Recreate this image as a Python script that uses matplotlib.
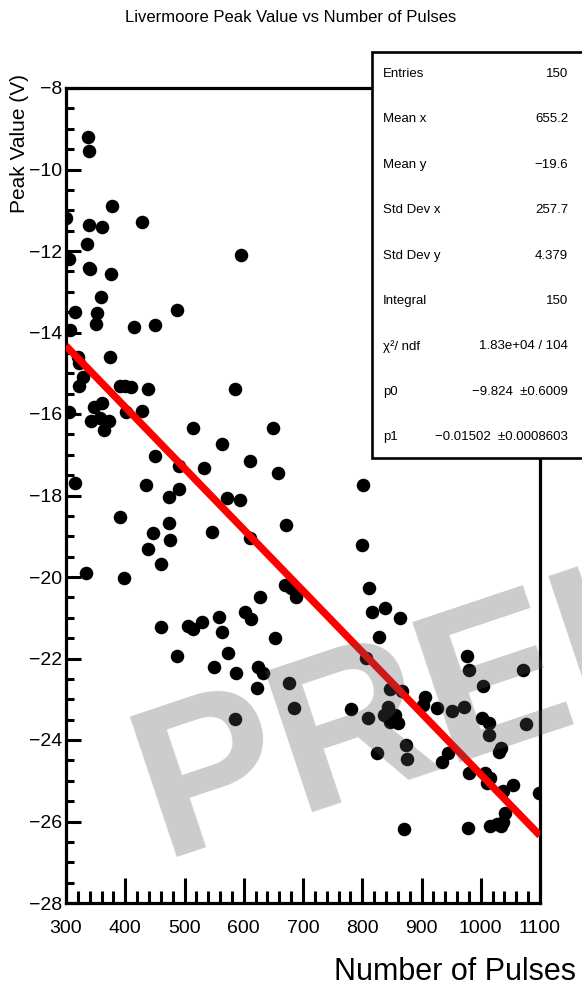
import numpy as np
import matplotlib
matplotlib.use("Agg")
import matplotlib.pyplot as plt
from matplotlib.patches import Rectangle
from matplotlib.ticker import MultipleLocator

plt.rcParams['font.family'] = ['Liberation Sans', 'DejaVu Sans']

# measured peak values vs number of pulses
pulses = [337, 338, 378, 300, 429, 338, 361, 335, 595, 305,
          338, 341, 376, 359, 315, 353, 488, 350, 414, 451,
          307, 321, 322, 329, 322, 375, 391, 400, 410, 438,
          586, 305, 348, 360, 342, 357, 373, 364, 401, 429,
          514, 563, 610, 450, 490, 533, 316, 435, 490, 474,
          571, 594, 391, 447, 473, 476, 546, 610, 438, 461,
          334, 398, 460, 487, 506, 515, 529, 559, 564, 574,
          549, 587, 602, 612, 627, 653, 624, 633, 670, 679,
          689, 650, 657, 671, 622, 677, 684, 585, 781, 810,
          825, 812, 816, 838, 864, 829, 807, 976, 981, 1072,
          1003, 846, 867, 906, 903, 927, 951, 972, 836, 844,
          846, 855, 861, 1002, 1014, 1014, 1076, 874, 875, 934,
          945, 1031, 1035, 981, 1007, 1016, 1010, 1037, 1055, 1098,
          870, 979, 1016, 1027, 1038, 1041, 1035, 802, 799]
peak = [-9.20, -9.54, -10.90, -11.20, -11.28, -11.35, -11.40, -11.83, -12.10, -12.20,
        -12.42, -12.44, -12.57, -13.14, -13.49, -13.51, -13.45, -13.79, -13.86, -13.82,
        -13.94, -14.59, -14.76, -15.08, -15.31, -14.59, -15.31, -15.31, -15.34, -15.38,
        -15.39, -15.94, -15.84, -15.74, -16.16, -16.10, -16.16, -16.39, -15.94, -15.93,
        -16.35, -16.74, -17.15, -17.03, -17.28, -17.33, -17.70, -17.74, -17.85, -18.03,
        -18.07, -18.11, -18.53, -18.93, -18.68, -19.08, -18.89, -19.05, -19.31, -19.69,
        -19.91, -20.03, -21.23, -21.94, -21.20, -21.28, -21.10, -20.97, -21.36, -21.86,
        -22.20, -22.35, -20.85, -21.03, -20.48, -21.49, -22.22, -22.36, -20.20, -20.28,
        -20.48, -16.35, -17.44, -18.72, -22.73, -22.59, -23.21, -23.49, -23.25, -23.47,
        -24.31, -20.28, -20.85, -20.77, -21.01, -21.48, -21.99, -21.95, -22.28, -22.28,
        -22.67, -22.75, -22.79, -22.94, -23.15, -23.22, -23.30, -23.20, -23.39, -23.18,
        -23.55, -23.39, -23.59, -23.47, -23.59, -23.88, -23.61, -24.12, -24.47, -24.53,
        -24.33, -24.29, -24.20, -24.82, -24.82, -24.94, -25.05, -25.25, -25.10, -25.29,
        -26.19, -26.17, -26.11, -26.05, -26.00, -25.80, -26.12, -17.74, -19.21]

# linear fit result
p0 = -9.824
p1 = -0.01502

stat_names = ["Entries", "Mean x", "Mean y", "Std Dev x", "Std Dev y",
              "Integral", "χ²/ ndf", "p0", "p1"]
stat_values = ["150", "655.2", "−19.6", "257.7", "4.379", "150",
               "1.83e+04 / 104", "−9.824  ±0.6009", "−0.01502  ±0.0008603"]

W, H = 582, 990
fig = plt.figure(figsize=(W / 100, H / 100), dpi=100)


def fx(px):
    return px / W


def fy(py):
    return 1 - py / H


ax = fig.add_axes([fx(66), fy(903), 474 / W, 815 / H])
ax.scatter(pulses, peak, s=95, color='black', linewidths=0, zorder=3)

xf = np.array([300, 1100])
ax.plot(xf, p0 + p1 * xf, color='red', lw=5.3, solid_capstyle='butt', zorder=4)

ax.set_xlim(300, 1100)
ax.set_ylim(-28, -8)
ax.xaxis.set_major_locator(MultipleLocator(100))
ax.xaxis.set_minor_locator(MultipleLocator(20))
ax.yaxis.set_major_locator(MultipleLocator(2))
ax.yaxis.set_minor_locator(MultipleLocator(0.5))
ax.tick_params(axis='both', which='both', direction='in', width=2.2,
               top=False, right=False, labelsize=14)
ax.tick_params(axis='x', which='major', length=18, pad=12)
ax.tick_params(axis='x', which='minor', length=9)
ax.tick_params(axis='y', which='major', length=10.8, pad=3)
ax.tick_params(axis='y', which='minor', length=5.4)
for sp in ax.spines.values():
    sp.set_linewidth(2.3)

fig.text(fx(291), fy(18), "Livermoore Peak Value vs Number of Pulses",
         ha='center', va='center', fontsize=12)
fig.text(fx(576), fy(972), "Number of Pulses", ha='right', va='center',
         fontsize=22)
fig.text(fx(20), fy(74), "Peak Value (V)", ha='center', va='top',
         rotation=90, fontsize=15)

# stats box
box = Rectangle((fx(372), fy(458)), fx(240), 406 / H, transform=fig.transFigure,
                facecolor='white', edgecolor='black', lw=1.9, zorder=5,
                clip_on=False)
fig.add_artist(box)
for i, (name, val) in enumerate(zip(stat_names, stat_values)):
    y = fy(74 + i * 45.4)
    fig.text(fx(383), y, name, ha='left', va='center', fontsize=9.5, zorder=6)
    fig.text(fx(568), y, val, ha='right', va='center', fontsize=9.5, zorder=6)

# watermark
fig.text(fx(162), fy(858), "PRELIMINARY", rotation=18.5, rotation_mode='anchor',
         ha='left', va='baseline', fontsize=155, fontweight='bold',
         color=(0.33, 0.33, 0.33), alpha=0.3, zorder=10)

fig.savefig("out.png", dpi=100)
